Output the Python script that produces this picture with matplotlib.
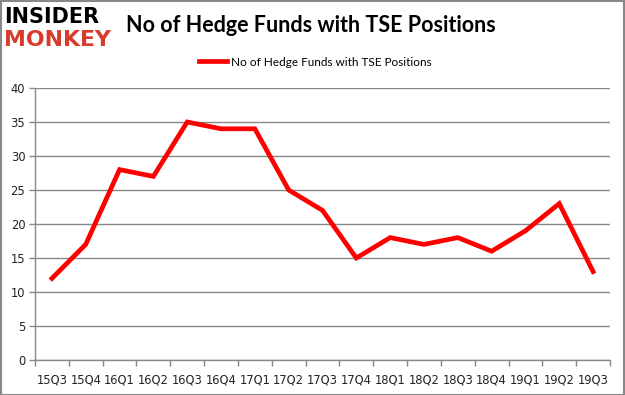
import matplotlib
matplotlib.use("Agg")
import matplotlib.pyplot as plt
import numpy as np

quarters = ["15Q3", "15Q4", "16Q1", "16Q2", "16Q3", "16Q4", "17Q1", "17Q2", "17Q3",
            "17Q4", "18Q1", "18Q2", "18Q3", "18Q4", "19Q1", "19Q2", "19Q3"]
funds = [12, 17, 28, 27, 35, 34, 34, 25, 22, 15, 18, 17, 18, 16, 19, 23, 13]
yticks = [0, 5, 10, 15, 20, 25, 30, 35, 40]
title = "No of Hedge Funds with TSE Positions"
series_name = "No of Hedge Funds with TSE Positions"

W, H = 625, 395
fig = plt.figure(figsize=(W / 100, H / 100), dpi=100)
fig.patch.set_facecolor("white")

ax = fig.add_axes([35 / W, 1 - 360 / H, (610 - 35) / W, (360 - 88) / H])
x = np.arange(len(quarters))
ax.plot(x, funds, color="#ff0000", lw=3.4, solid_joinstyle="miter", label=series_name)

ax.set_xlim(-0.5, len(quarters) - 0.5)
ax.set_ylim(0, 40)
ax.set_yticks(yticks)
ax.set_xticks(x)
ax.set_xticklabels(quarters)
ax.set_xticks(np.arange(-0.5, len(quarters)), minor=True)
ax.tick_params(axis="x", which="major", length=0, pad=9.5, labelsize=8.3, labelcolor="#222222")
ax.tick_params(axis="x", which="minor", length=4, color="#888888", width=1, direction="out")
ax.tick_params(axis="y", length=4, color="#888888", width=1, labelsize=8.3, labelcolor="#222222", pad=3)
ax.yaxis.grid(True, color="#888888", lw=1)
ax.set_axisbelow(True)
for s in ["top", "right"]:
    ax.spines[s].set_visible(False)
for s in ["left", "bottom"]:
    ax.spines[s].set_color("#888888")
    ax.spines[s].set_linewidth(1)

fig.text(311 / W, 1 - 26 / H, title, ha="center", va="center", fontsize=15.5,
         fontweight="bold", family="Lato", color="black")

leg = fig.legend(loc="center", bbox_to_anchor=(315 / W, 1 - 62 / H), frameon=False,
                 prop={"family": "Lato", "size": 8.5}, handlelength=2.4, handletextpad=0.3)

fig.text(4 / W, 1 - 17 / H, "INSIDER", ha="left", va="center", fontsize=15,
         fontweight="heavy", family="DejaVu Sans", color="black")
fig.text(4 / W, 1 - 40 / H, "MONKEY", ha="left", va="center", fontsize=15.8,
         fontweight="heavy", family="DejaVu Sans", color="#d63b2b")

border = plt.Rectangle((0.5 / W, 0.5 / H), 1 - 1.5 / W, 1 - 1.5 / H, transform=fig.transFigure,
                       fill=False, edgecolor="#888888", lw=1.5)
fig.patches.append(border)

fig.savefig("out.png", dpi=100)
